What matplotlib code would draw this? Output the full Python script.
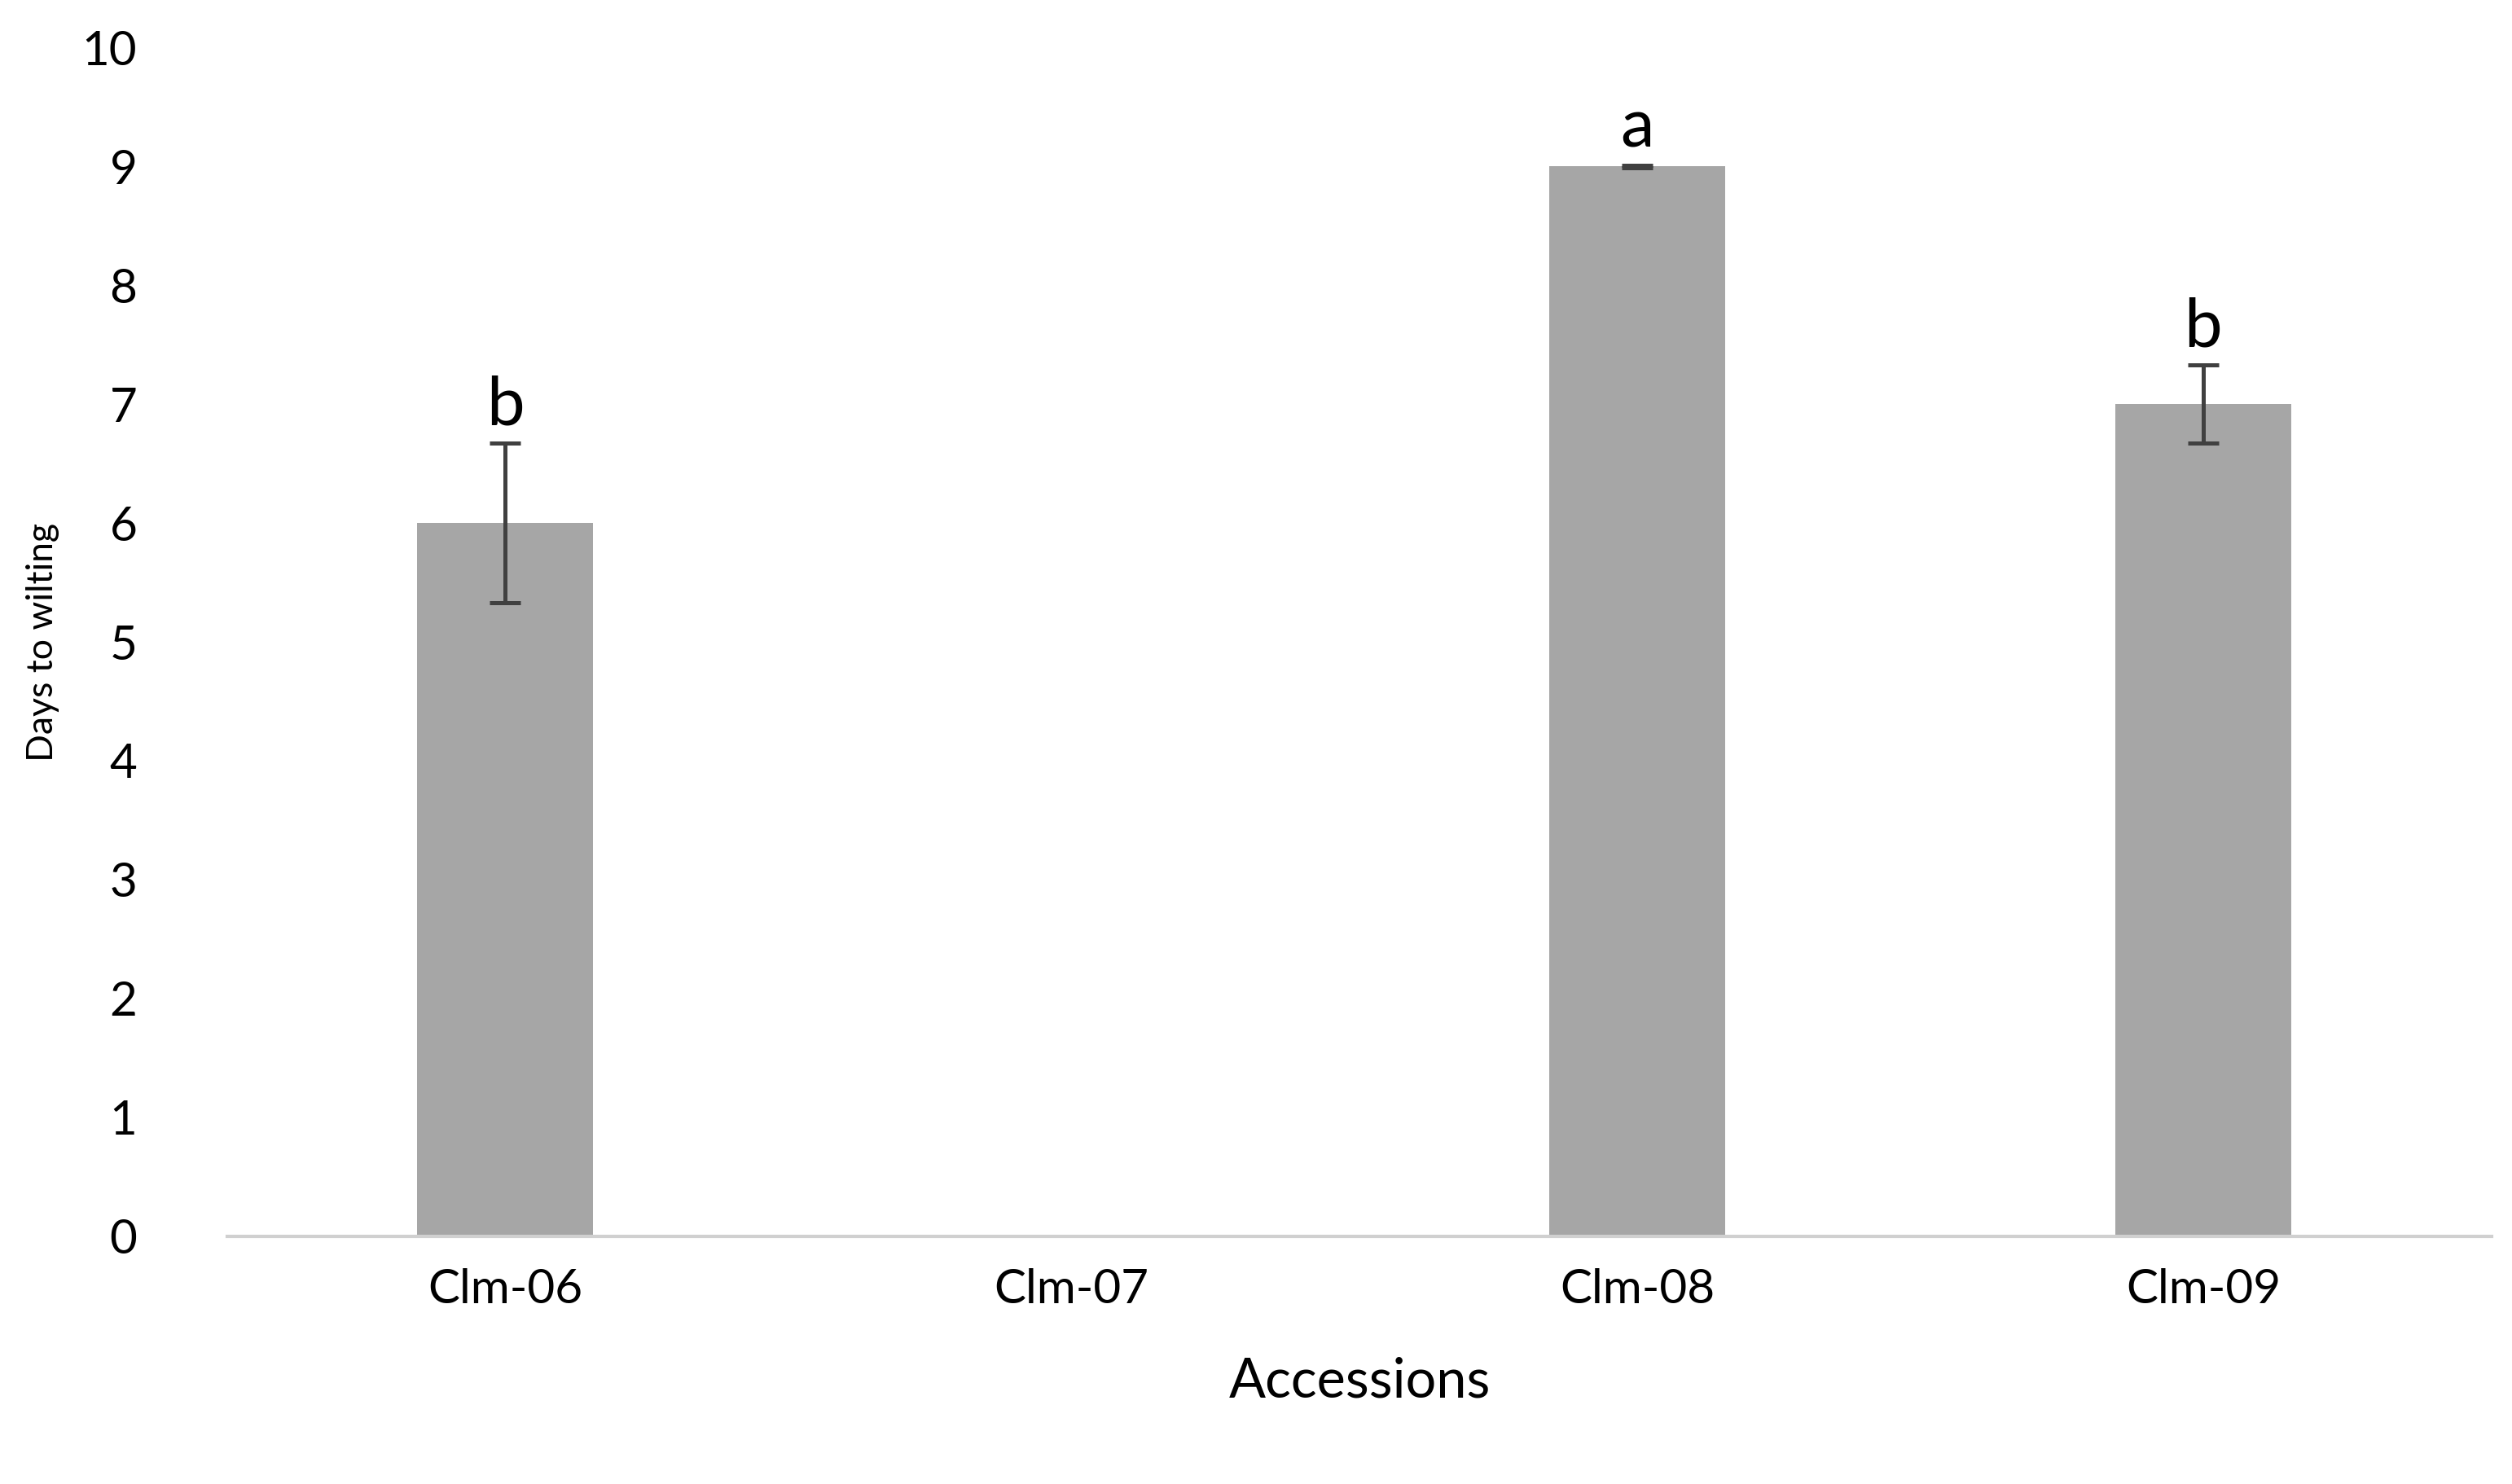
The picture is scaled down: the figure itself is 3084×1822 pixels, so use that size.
import matplotlib.pyplot as plt
import numpy as np

accessions = ["Clm-06", "Clm-07", "Clm-08", "Clm-09"]
days = [6, 0, 9, 7]
errors = [0.67, 0, 0.01, 0.33]
letters = ["b", "", "a", "b"]

plt.rcParams["font.family"] = ["Lato", "DejaVu Sans"]

fig = plt.figure(figsize=(15.42, 9.11), dpi=200)
ax = fig.add_axes([0.0906, 0.167, 0.9014, 0.801])

x = np.arange(len(accessions))
show = [d > 0 for d in days]
ax.bar(x[show], np.array(days)[show], 0.31, color="#a6a6a6",
       yerr=np.array(errors)[show], capsize=7,
       error_kw=dict(ecolor="#404040", elinewidth=1.8, capthick=1.8))

for xi, d, e, lab in zip(x, days, errors, letters):
    if lab:
        ax.text(xi, d + e + 0.05, lab, ha="center", va="bottom", fontsize=30)

ax.set_xlim(-0.49, 3.51)
ax.set_ylim(0, 10)
ax.set_yticks(range(0, 11))
ax.set_xticks(x)
ax.set_xticklabels(accessions)
ax.tick_params(axis="both", length=0, labelsize=21, pad=14)
ax.tick_params(axis="y", pad=40)
for s in ["top", "right", "left"]:
    ax.spines[s].set_visible(False)
ax.spines["bottom"].set_color("#d0d0d0")
ax.spines["bottom"].set_linewidth(1.5)
ax.set_ylabel("Days to wilting", fontsize=16, labelpad=10)
ax.set_xlabel("Accessions", fontsize=24, labelpad=20)

fig.savefig("out.png", dpi=200)
